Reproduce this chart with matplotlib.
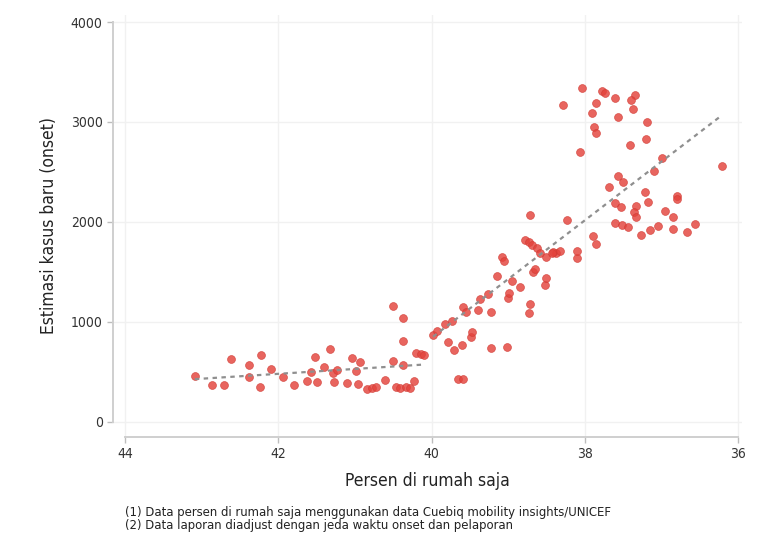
import numpy as np
import matplotlib
matplotlib.use("Agg")
import matplotlib.pyplot as plt

plt.rcParams['font.family'] = ['DejaVu Sans']
plt.rcParams['font.stretch'] = 'condensed'

# persen di rumah saja (x), estimasi kasus baru (y)
persen = [
    43.09, 42.86, 42.71, 42.62, 42.38, 42.38, 42.22, 42.24, 42.10, 41.94,
    41.79, 41.62, 41.57, 41.52, 41.50, 41.40, 41.33, 41.28, 41.27, 41.23,
    41.10, 41.04, 40.98, 40.96, 40.93, 40.84, 40.78, 40.72, 40.61, 40.50,
    40.50, 40.47, 40.41, 40.37, 40.37, 40.37, 40.33, 40.28, 40.23, 40.20,
    40.14, 40.10, 39.98, 39.93,
    39.83, 39.73, 39.78, 39.71, 39.60, 39.49, 39.47, 39.66, 39.59, 39.59,
    39.55, 39.39, 39.37, 39.26, 39.23, 39.23, 39.02, 39.00, 38.99, 39.15,
    39.08, 39.06, 38.95, 38.84, 38.73, 38.71, 38.67, 38.65, 38.52, 38.50,
    38.37, 38.41, 38.78, 38.73, 38.69, 38.62, 38.58, 38.50, 38.43, 38.32,
    38.10, 38.10, 38.71, 38.23, 37.89, 37.86,
    38.04, 37.78, 37.73, 37.60, 37.34, 37.40, 38.28, 37.85, 37.37, 37.90,
    37.56, 37.19, 37.88, 37.85, 37.20, 37.41, 38.06, 36.99, 36.21, 37.10,
    37.56, 37.50, 37.69, 37.22, 36.79, 36.80, 37.61, 37.53, 37.18, 37.33,
    37.36, 37.33, 36.95, 36.85, 37.60, 37.51, 37.43, 36.56, 36.67, 36.85,
    37.04, 37.15, 37.26,
]
kasus = [
    460, 365, 365, 625, 565, 450, 665, 350, 530, 450,
    365, 410, 500, 650, 395, 550, 725, 485, 395, 520,
    385, 640, 510, 375, 600, 325, 340, 345, 420, 1160,
    610, 350, 340, 1040, 810, 570, 345, 340, 410, 690,
    680, 670, 870, 910,
    980, 1010, 800, 715, 770, 850, 900, 425, 425, 1150,
    1100, 1120, 1230, 1280, 1100, 735, 750, 1242, 1292, 1462,
    1652, 1610, 1407, 1350, 1085, 1180, 1500, 1533, 1372, 1442,
    1690, 1702, 1820, 1797, 1767, 1742, 1692, 1650, 1692, 1710,
    1642, 1712, 2070, 2024, 1855, 1780,
    3340, 3310, 3285, 3235, 3267, 3217, 3167, 3192, 3127, 3092,
    3052, 3002, 2952, 2892, 2827, 2770, 2702, 2637, 2560, 2507,
    2455, 2400, 2347, 2303, 2262, 2230, 2185, 2147, 2202, 2160,
    2100, 2045, 2110, 2052, 1992, 1970, 1947, 1984, 1900, 1932,
    1962, 1920, 1872,
]

persen = np.array(persen)
kasus = np.array(kasus)

fig = plt.figure(figsize=(7.64, 5.36), dpi=100)
ax = fig.add_axes([0.148, 0.185, 0.823, 0.787])

ax.scatter(persen, kasus, s=32, color='#e3433c', alpha=0.82,
           edgecolors='#d23a33', linewidths=0.5, zorder=3)

# garis tren: fit linear terpisah di kiri dan kanan 40 persen
for mask in (persen >= 40, persen < 40):
    xs = persen[mask]
    b, a = np.polyfit(xs, kasus[mask], 1)
    xx = np.array([xs.max(), xs.min()])
    ax.plot(xx, a + b * xx, color='#8f8f8f', lw=1.6, ls=(0, (2, 2)), zorder=4)

ax.set_xlim(44.157, 35.95)
ax.set_ylim(-150, 4070)
ax.set_xticks([44, 42, 40, 38, 36])
ax.set_yticks([0, 1000, 2000, 3000, 4000])

ax.grid(True, color='#f1f1f1', lw=1.0, zorder=0)
for s in ['top', 'right']:
    ax.spines[s].set_visible(False)
ax.spines['left'].set_bounds(0, 4000)
ax.spines['bottom'].set_bounds(44, 36)
for s in ['left', 'bottom']:
    ax.spines[s].set_color('#cfcfcf')
    ax.spines[s].set_linewidth(1.4)
ax.tick_params(axis='both', colors='#bdbdbd', length=4, width=1,
               labelcolor='#333333', labelsize=10)

ax.set_xlabel('Persen di rumah saja', fontsize=12.5, color='#222222', labelpad=8)
ax.set_ylabel('Estimasi kasus baru (onset)', fontsize=12.5, color='#222222', labelpad=9)

fig.text(0.163, 0.008, '(1) Data persen di rumah saja menggunakan data Cuebiq mobility insights/UNICEF\n'
         '(2) Data laporan diadjust dengan jeda waktu onset dan pelaporan',
         fontsize=9.4, color='#222222', linespacing=1.0, va='bottom')

fig.savefig('out.png', dpi=100)
